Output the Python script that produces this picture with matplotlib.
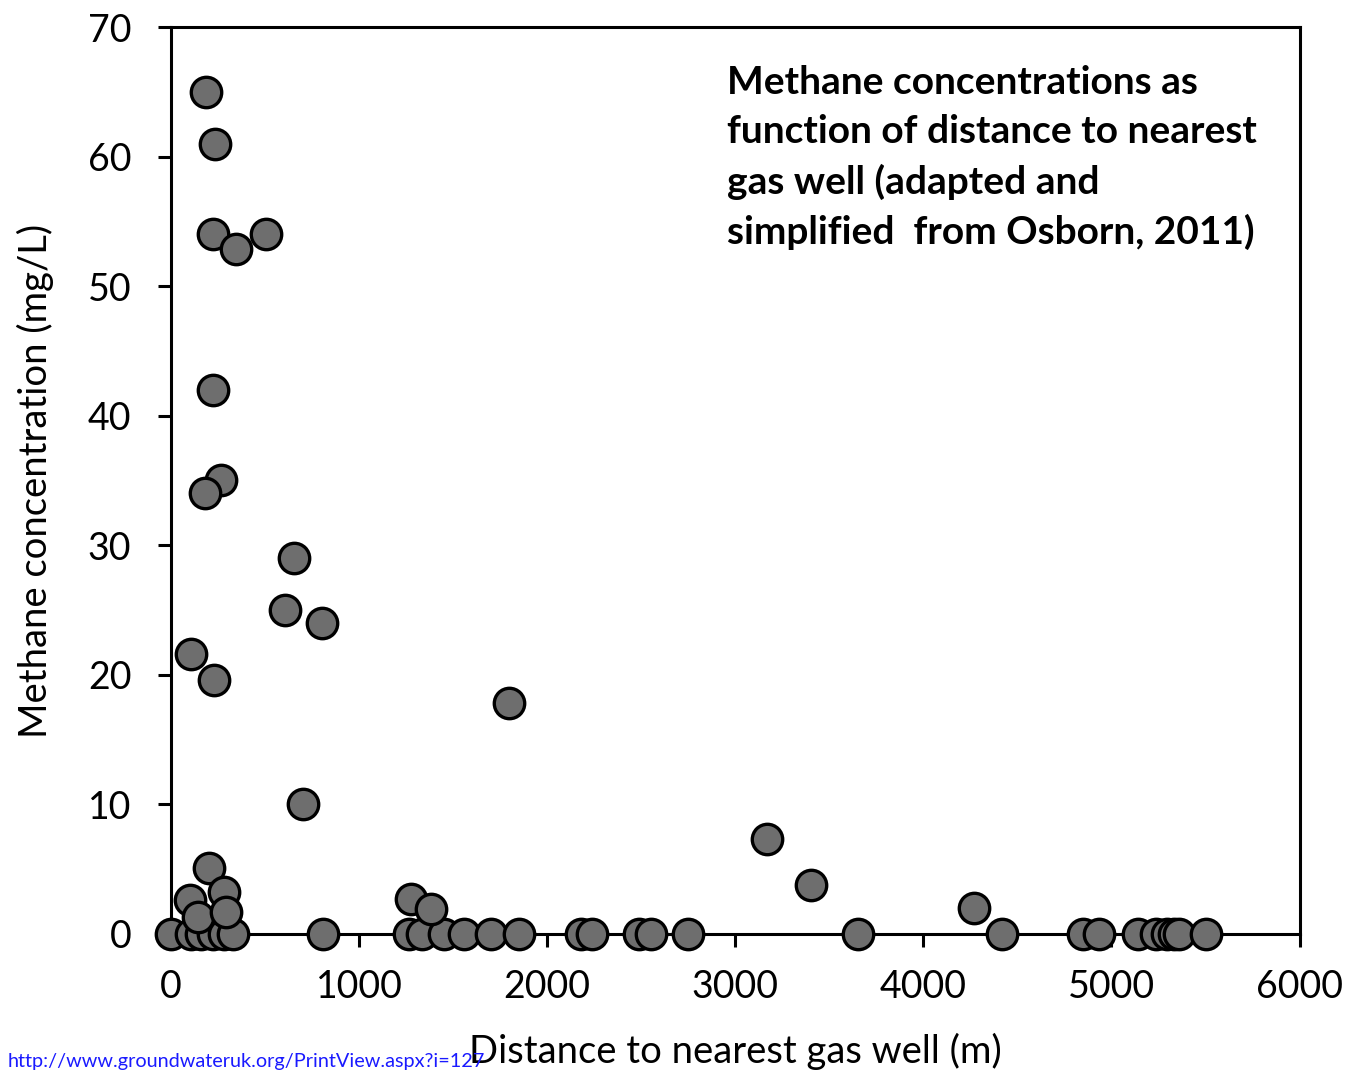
import numpy as np
import matplotlib.pyplot as plt

# distance to nearest gas well (m) and methane concentration (mg/L)
dist_pos = [186, 234, 223, 345, 505, 223, 265, 181, 653, 605, 802, 106, 228,
            1795, 701, 3170, 3404, 4270, 202, 101, 281, 143, 292, 1275, 1385]
ch4_pos = [65.0, 61.0, 54.0, 52.9, 54.0, 42.0, 35.0, 34.0, 29.0, 25.0, 24.0,
           21.6, 19.6, 17.8, 10.0, 7.3, 3.8, 2.0, 5.1, 2.6, 3.2, 1.3, 1.7,
           2.7, 1.9]
dist_zero = [0, 106, 159, 223, 281, 330, 807, 1264, 1333, 1450, 1556, 1699,
             1848, 2178, 2240, 2487, 2550, 2751, 3653, 4420, 4848, 4933, 5141,
             5236, 5294, 5331, 5358, 5502]
ch4_zero = [0.0] * len(dist_zero)

x_ticks = [0, 1000, 2000, 3000, 4000, 5000, 6000]
y_ticks = [0, 10, 20, 30, 40, 50, 60, 70]

note = ("Methane concentrations as\nfunction of distance to nearest\n"
        "gas well (adapted and\nsimplified  from Osborn, 2011)")
url = "http://www.groundwateruk.org/PrintView.aspx?i=127"

plt.rcParams['font.family'] = ['Lato', 'DejaVu Sans']

fig = plt.figure(figsize=(13.46, 10.73), dpi=100)
ax = fig.add_axes([0.127, 0.1296, 0.8385, 0.8452])

x = np.array(dist_zero + dist_pos)
y = np.array(ch4_zero + ch4_pos)
ax.scatter(x, y, s=480, c="#6e6e6e", edgecolors="black", linewidths=2.4,
           zorder=5, clip_on=False)

ax.set_xlim(0, 6000)
ax.set_ylim(0, 70)
ax.set_xticks(x_ticks)
ax.set_yticks(y_ticks)
for sp in ax.spines.values():
    sp.set_linewidth(2.2)
ax.tick_params(direction="out", length=9.5, width=2.2, labelsize=27, pad=16)
ax.tick_params(axis="y", pad=19)

ax.set_xlabel("Distance to nearest gas well (m)", fontsize=27.5, labelpad=20)
ax.set_ylabel("Methane concentration (mg/L)", fontsize=27.5, labelpad=24)

ax.text(0.493, 0.958, note, transform=ax.transAxes, fontsize=28,
        fontweight="bold", va="top", ha="left", linespacing=1.48)

fig.text(0.006, 0.003, url, color="#1a1aff", fontsize=14.3, ha="left",
         va="bottom")

fig.savefig("out.png", dpi=100)
